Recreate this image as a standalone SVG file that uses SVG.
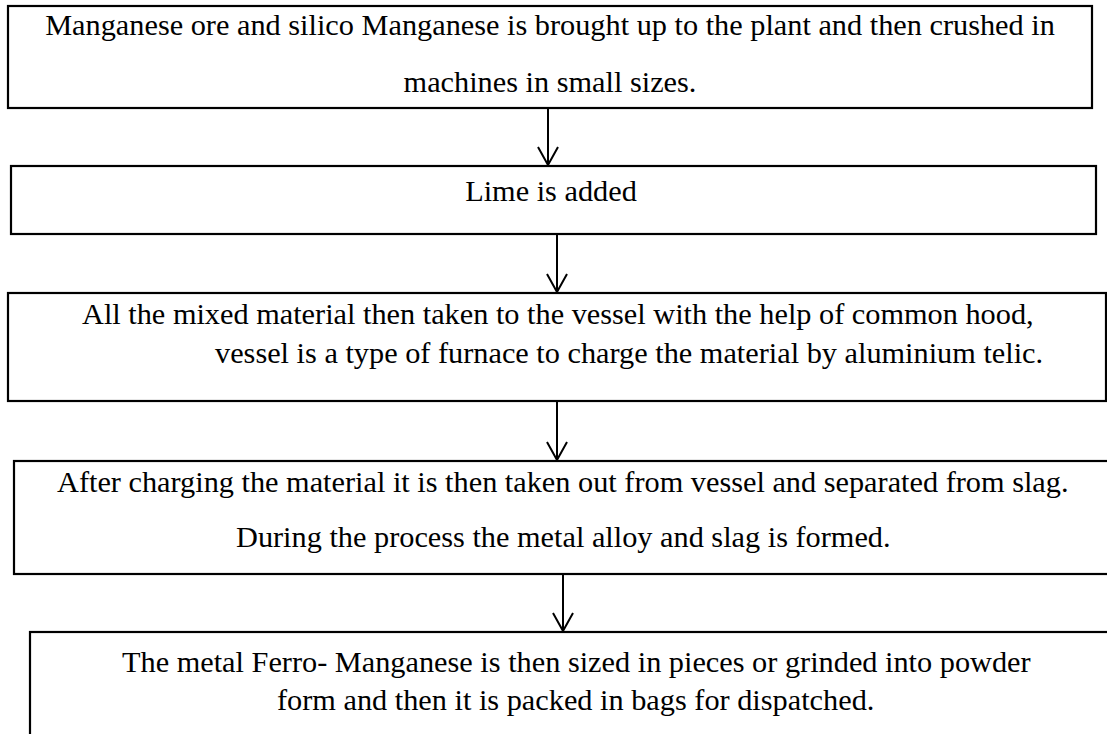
<svg xmlns="http://www.w3.org/2000/svg" width="1107" height="734" viewBox="0 0 1107 734">
  <style>
    .box { fill: #ffffff; stroke: #000000; stroke-width: 2.2; }
    .t { font-family: "Liberation Serif", "Times New Roman", serif; font-size: 30.3px; fill: #000000; }
    .edge { stroke: #000000; stroke-width: 2; fill: none; marker-end: url(#arr); }
  </style>
  <defs>
    <marker id="arr" viewBox="0 0 20 22" refX="19" refY="11" markerWidth="20" markerHeight="22" markerUnits="userSpaceOnUse" orient="auto">
      <path d="M1,1 L19,11 L1,21" fill="none" stroke="#000000" stroke-width="2"/>
    </marker>
  </defs>
  <rect width="1107" height="734" fill="#ffffff"/>
  <g id="connectors">
    <line class="edge" x1="548" y1="108" x2="548" y2="165"/>
    <line class="edge" x1="557" y1="234" x2="557" y2="292"/>
    <line class="edge" x1="557" y1="402" x2="557" y2="460"/>
    <line class="edge" x1="563" y1="575" x2="563" y2="631"/>
  </g>
  <g id="node1">
    <rect class="box" x="8" y="6" width="1084" height="102"/>
    <text class="t" x="550" y="35" text-anchor="middle">Manganese ore and silico Manganese is brought up to the plant and then crushed in</text>
    <text class="t" x="550" y="92" text-anchor="middle">machines in small sizes.</text>
  </g>
  <g id="node2">
    <rect class="box" x="11" y="166" width="1085" height="68"/>
    <text class="t" x="551" y="201" text-anchor="middle">Lime is added</text>
  </g>
  <g id="node3">
    <rect class="box" x="8" y="293" width="1098" height="108"/>
    <text class="t" x="82" y="324">All the mixed material then taken to the vessel with the help of common hood,</text>
    <text class="t" x="215" y="363">vessel is a type of furnace to charge the material by aluminium telic.</text>
  </g>
  <g id="node4">
    <rect class="box" x="14" y="461" width="1110" height="113"/>
    <text class="t" x="57" y="492">After charging the material it is then taken out from vessel and separated from slag.</text>
    <text class="t" x="236" y="547">During the process the metal alloy and slag is formed.</text>
  </g>
  <g id="node5">
    <rect class="box" x="30" y="632" width="1100" height="120"/>
    <text class="t" x="122" y="672">The metal Ferro- Manganese is then sized in pieces or grinded into powder</text>
    <text class="t" x="277" y="710">form and then it is packed in bags for dispatched.</text>
  </g>
</svg>
